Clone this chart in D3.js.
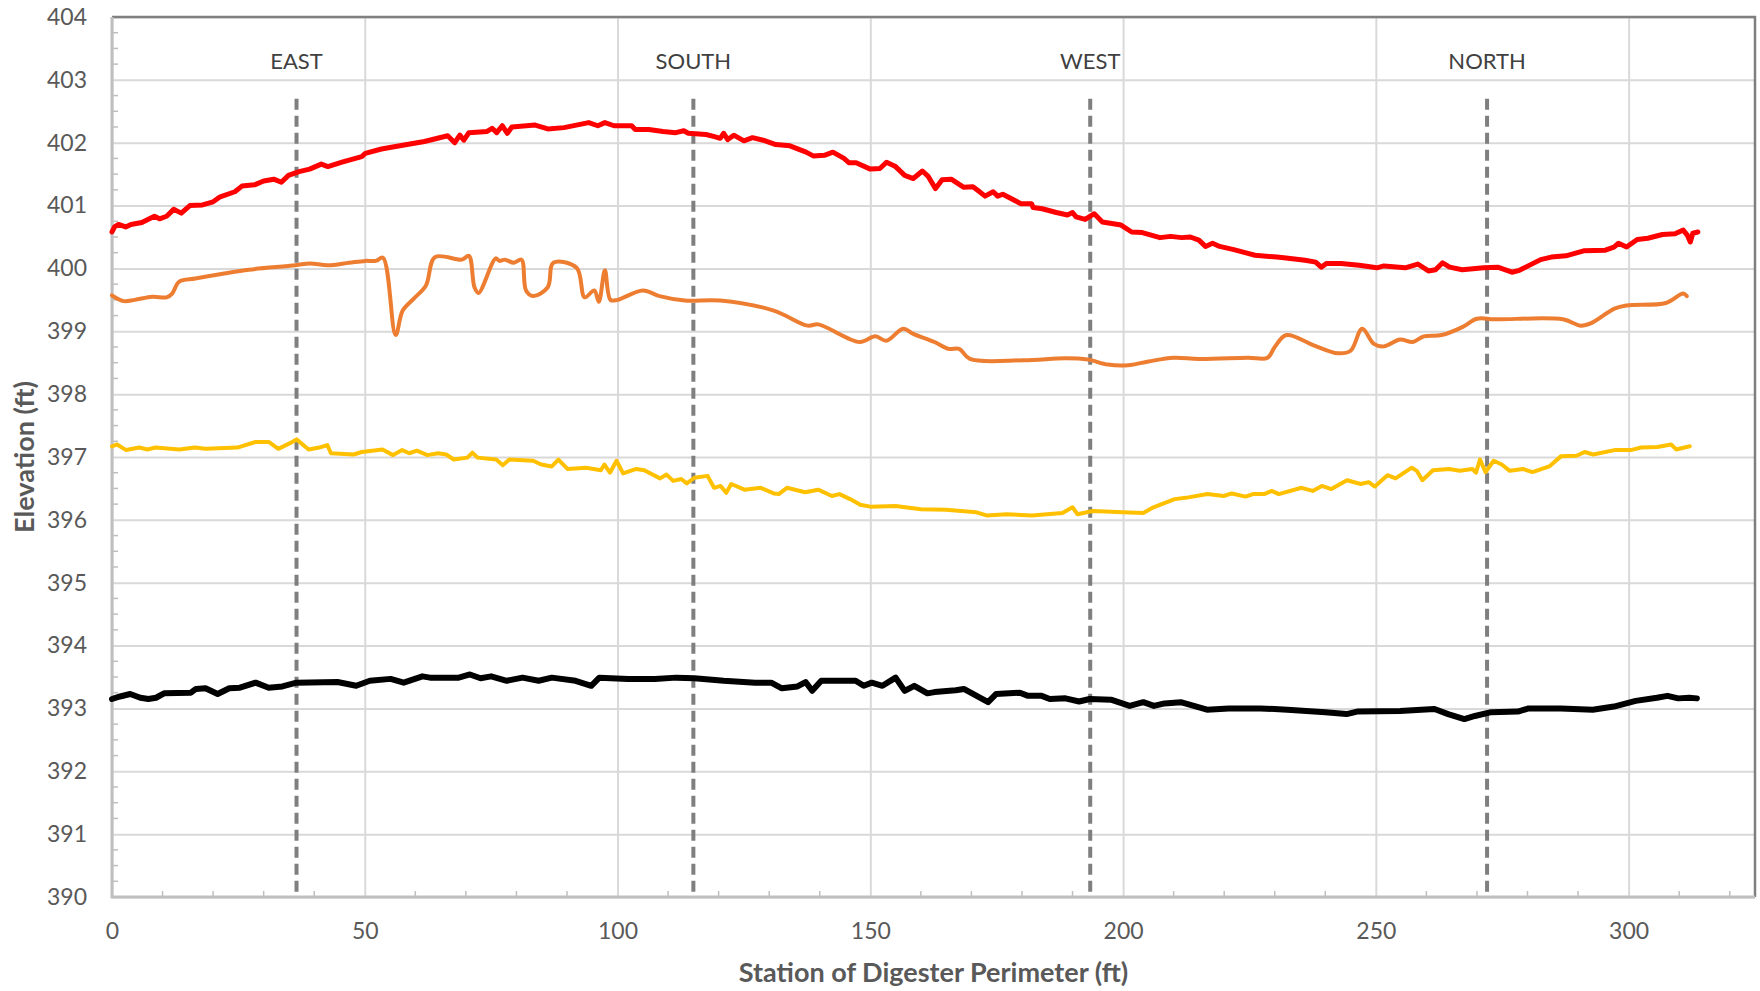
<!DOCTYPE html>
<html>
<head>
<meta charset="utf-8">
<script src="https://cdn.jsdelivr.net/npm/d3@7"></script>
<style>
  body { margin: 0; background: #fff; }
  svg { display: block; font-family: Lato, "Open Sans", sans-serif; }
</style>
</head>
<body>
<div id="container"></div>
<script>
const width = 1760, height = 991;
const x0 = 112, x1 = 1755, y0 = 17, y1 = 897;

// station (ft), elevation (ft)
const redLine = [
  [0, 400.58], [0.5, 400.66], [1.3, 400.70], [2.7, 400.66], [3.75, 400.70], [5.9, 400.73], [8.4, 400.83],
  [9.4, 400.79], [10.8, 400.83], [12.2, 400.94], [13.7, 400.88], [15.4, 401.0], [17.9, 401.01], [20, 401.06],
  [21.4, 401.14], [24.3, 401.22], [25.7, 401.31], [28.2, 401.33], [30, 401.39], [32, 401.42], [33.5, 401.37],
  [34.9, 401.48], [37, 401.54], [39.1, 401.58], [41.4, 401.66], [42.7, 401.62], [45.5, 401.69], [49.4, 401.78],
  [50.1, 401.83], [53.3, 401.9], [57.5, 401.96], [61.8, 402.02], [66.4, 402.11], [67.8, 402.0], [68.8, 402.12],
  [69.6, 402.04], [70.6, 402.16], [74.2, 402.18], [75.2, 402.23], [76.1, 402.16], [77.2, 402.27], [78.2, 402.15],
  [79.1, 402.25], [83.7, 402.28], [86.2, 402.22], [89.4, 402.24], [94.3, 402.32], [96.1, 402.27], [97.5, 402.32],
  [99.3, 402.27], [102.8, 402.27], [103.5, 402.21], [106.2, 402.21], [109, 402.18], [111.5, 402.16], [113.1, 402.19],
  [114, 402.15], [117.5, 402.13], [119, 402.1], [120.3, 402.07], [121, 402.15], [121.8, 402.05], [123, 402.12],
  [125, 402.03], [126.7, 402.08], [128.8, 402.04], [131.3, 401.97], [134.1, 401.95], [137.3, 401.85], [138.7, 401.79],
  [140.9, 401.8], [142.6, 401.85], [144.8, 401.75], [145.8, 401.68], [147.2, 401.68], [150, 401.58], [151.9, 401.59],
  [153.2, 401.69], [155, 401.62], [156.8, 401.48], [158.5, 401.43], [160.3, 401.55], [161.4, 401.47], [162.9, 401.27],
  [164.2, 401.41], [166, 401.42], [168.5, 401.29], [170.3, 401.3], [171.3, 401.24], [172.7, 401.15], [174.3, 401.22],
  [175.2, 401.15], [176.2, 401.18], [179.8, 401.03], [181.9, 401.03], [182.2, 400.97], [184, 400.95], [186.8, 400.89],
  [189, 400.85], [190, 400.89], [190.7, 400.82], [192.5, 400.78], [194.3, 400.87], [195.9, 400.74], [199.6, 400.69],
  [201.7, 400.58], [203.8, 400.57], [207.3, 400.49], [209.4, 400.51], [211.6, 400.49], [213.3, 400.5], [215, 400.45],
  [216.3, 400.35], [217.7, 400.4], [219.1, 400.35], [221.9, 400.3], [224.7, 400.24], [226.1, 400.21], [230.4, 400.18],
  [231.8, 400.17], [236, 400.13], [238.1, 400.1], [239.2, 400.02], [240.2, 400.08], [243.1, 400.08], [246.7, 400.05],
  [250.2, 400.01], [251.6, 400.04], [255.8, 400.01], [258.3, 400.07], [260.4, 399.96], [261.8, 399.98], [263.2, 400.09],
  [264.6, 400.02], [267.1, 399.98], [271.3, 400.01], [274.1, 400.02], [276.9, 399.94], [278.4, 399.97], [282.6, 400.14],
  [284.7, 400.18], [287.6, 400.2], [291.1, 400.28], [295.4, 400.29], [297.1, 400.34], [298, 400.4], [299.6, 400.34],
  [301.7, 400.46], [303.8, 400.48], [306.7, 400.54], [309.2, 400.55], [310.8, 400.61], [311.6, 400.53], [312.2, 400.42],
  [312.7, 400.56], [313.7, 400.58]
];

const orangeLine = [
  [0, 399.57], [2.3, 399.48], [4.5, 399.5], [8, 399.55], [10.8, 399.54], [11.9, 399.6], [13.3, 399.79], [16.5, 399.84],
  [22.2, 399.92], [27.1, 399.98], [36.3, 400.05], [39.1, 400.08], [42.7, 400.05], [46.9, 400.09], [50.1, 400.12],
  [52.2, 400.12], [53.6, 400.17], [56.1, 398.94], [57.5, 399.33], [59.7, 399.52], [62.1, 399.73], [63.9, 400.18],
  [69.2, 400.14], [70.6, 400.2], [71.7, 399.7], [72.5, 399.61], [75.9, 400.16], [76.6, 400.12], [77.7, 400.14],
  [79.5, 400.09], [81, 400.14], [81.9, 399.65], [83.3, 399.56], [86.2, 399.7], [87.3, 400.09], [91.9, 400.01],
  [93.5, 399.54], [95.4, 399.65], [96.3, 399.47], [97.5, 399.97], [98.6, 399.5], [100, 399.5], [105, 399.65],
  [108.3, 399.56], [113.3, 399.49], [120.3, 399.49], [130.9, 399.33], [137.6, 399.09], [139.7, 399.11], [147.9, 398.83],
  [151, 398.92], [153.2, 398.85], [156.5, 399.04], [158.5, 398.96], [162.7, 398.83], [165.5, 398.72], [167.6, 398.72],
  [169.7, 398.56], [180.3, 398.54], [188.7, 398.57], [193, 398.55], [197, 398.47], [201, 398.46], [205, 398.52],
  [210, 398.58], [215, 398.56], [224.7, 398.58], [228.6, 398.58], [230, 398.75], [232.3, 398.94], [237.6, 398.78],
  [242.5, 398.65], [245, 398.69], [247.3, 399.04], [249.6, 398.8], [251.6, 398.76], [254.8, 398.87], [257.3, 398.83],
  [259.5, 398.92], [263, 398.94], [267.2, 399.07], [270, 399.2], [273.6, 399.19], [287, 399.19], [290.5, 399.09],
  [292.6, 399.13], [297.2, 399.36], [299.6, 399.41], [307.4, 399.45], [310.8, 399.6], [311.5, 399.56]
];

const yellowLine = [
  [0, 397.17], [1, 397.2], [2.8, 397.11], [5.4, 397.15], [7, 397.12], [8.6, 397.15], [13.3, 397.12], [16.4, 397.15],
  [18.5, 397.13], [24.8, 397.15], [28.4, 397.24], [31, 397.24], [32.9, 397.13], [35.2, 397.22], [36.5, 397.28],
  [38.9, 397.12], [41, 397.15], [42.6, 397.19], [43.3, 397.06], [47.8, 397.04], [49.4, 397.08], [53.5, 397.12],
  [55.6, 397.03], [57.4, 397.11], [58.8, 397.06], [60.3, 397.1], [62.4, 397.03], [64.5, 397.06], [66.1, 397.04],
  [67.6, 396.96], [70.3, 396.99], [71.3, 397.07], [72.3, 396.99], [76, 396.96], [77.3, 396.87], [78.6, 396.96],
  [83.3, 396.94], [84.9, 396.88], [87, 396.85], [88.3, 396.96], [90.1, 396.81], [93.8, 396.83], [96.7, 396.79],
  [97.4, 396.88], [98.5, 396.75], [99.8, 396.94], [101.1, 396.74], [103.7, 396.81], [105.3, 396.79], [108.4, 396.66],
  [109.7, 396.72], [111, 396.62], [112.6, 396.65], [113.7, 396.58], [115.2, 396.67], [117.8, 396.7], [119.1, 396.51],
  [120.4, 396.54], [121.5, 396.43], [122.5, 396.57], [125.1, 396.48], [128.3, 396.51], [130.9, 396.42], [131.9, 396.41],
  [133.5, 396.51], [137.1, 396.44], [139.7, 396.48], [142.4, 396.38], [143.9, 396.41], [146, 396.33], [148, 396.24],
  [150, 396.21], [155, 396.22], [160, 396.17], [165, 396.16], [171, 396.12], [173, 396.07], [177, 396.09], [182, 396.07],
  [188, 396.11], [190, 396.2], [191, 396.09], [194, 396.14], [200, 396.12], [204, 396.11], [206, 396.2],
  [210.2, 396.33], [212.4, 396.35], [216.7, 396.41], [219.9, 396.38], [221.5, 396.42], [224.2, 396.37], [225.7, 396.41],
  [227.9, 396.41], [229.4, 396.46], [230.8, 396.41], [235.3, 396.51], [237.5, 396.46], [239.3, 396.54], [241.2, 396.49],
  [244.3, 396.63], [247, 396.57], [248.6, 396.6], [249.8, 396.53], [252.3, 396.71], [253.9, 396.66], [257.1, 396.83],
  [258.1, 396.78], [259.2, 396.63], [261.3, 396.79], [264.5, 396.81], [266.6, 396.78], [269.1, 396.81], [269.8, 396.75],
  [270.6, 396.96], [271.7, 396.76], [273.3, 396.94], [274.9, 396.88], [276.5, 396.78], [279.1, 396.81], [281, 396.76],
  [284.3, 396.85], [286.6, 397.01], [289.7, 397.02], [291.3, 397.08], [293, 397.04], [297.2, 397.11], [300.4, 397.11],
  [302.5, 397.15], [305.7, 397.16], [308.4, 397.2], [309.4, 397.12], [312.1, 397.17]
];

const blackLine = [
  [0, 393.15], [1.6, 393.19], [3.6, 393.23], [5.6, 393.17], [7.2, 393.15], [8.7, 393.17], [10.3, 393.24], [15.6, 393.25],
  [16.6, 393.31], [18.5, 393.32], [20.9, 393.23], [23.2, 393.32], [25.3, 393.33], [28.4, 393.41], [31, 393.33],
  [33.7, 393.35], [36.5, 393.41], [44.6, 393.42], [48.3, 393.36], [51, 393.44], [55.1, 393.47], [57.7, 393.41],
  [61.4, 393.51], [62.9, 393.49], [68.6, 393.49], [70.8, 393.54], [72.9, 393.48], [75, 393.51], [78.1, 393.44],
  [81.2, 393.49], [84.4, 393.44], [87, 393.49], [91.7, 393.44], [94.8, 393.36], [96.4, 393.49], [102.1, 393.47],
  [107.4, 393.47], [111.6, 393.49], [115.2, 393.48], [121, 393.44], [127.2, 393.41], [130.4, 393.41], [132.5, 393.32],
  [135.6, 393.35], [137.2, 393.42], [138.5, 393.28], [140.3, 393.44], [147.1, 393.44], [148.7, 393.36], [150.3, 393.41],
  [152.4, 393.36], [155, 393.49], [156.8, 393.28], [158.7, 393.36], [161.3, 393.24], [162.7, 393.26], [166.9, 393.29],
  [168.5, 393.31], [173.3, 393.1], [174.9, 393.23], [179.6, 393.25], [181.2, 393.2], [183.9, 393.2], [185.5, 393.15],
  [188.6, 393.16], [191.3, 393.11], [193.4, 393.15], [197.6, 393.14], [201.3, 393.04], [204, 393.1], [206.1, 393.04],
  [208.2, 393.08], [211.4, 393.1], [216.6, 392.98], [220.9, 393.0], [227.2, 393.0], [232.5, 392.98], [240, 392.94],
  [244.2, 392.91], [246.3, 392.95], [254.8, 392.96], [259, 392.98], [261.6, 392.99], [264.3, 392.91], [267.5, 392.83],
  [269.6, 392.88], [272.8, 392.94], [278.1, 392.95], [280.2, 393.0], [286.6, 393.0], [292.9, 392.98], [297.1, 393.03],
  [301.4, 393.12], [305.6, 393.17], [307.7, 393.2], [309.8, 393.16], [312, 393.17], [313.5, 393.16]
];

const sideNames = ['EAST', 'SOUTH', 'WEST', 'NORTH'];
const sideStations = [36.5, 115, 193.5, 272];
const xTicks = [0, 50, 100, 150, 200, 250, 300];
const yTicks = d3.range(390, 405);

const x = d3.scaleLinear([0, 325], [x0, x1]);
const y = d3.scaleLinear([390, 404], [y1, y0]);

const svg = d3.select('#container').append('svg')
    .attr('width', width)
    .attr('height', height)
    .attr('viewBox', [0, 0, width, height]);

// gridlines
svg.append('g')
    .attr('transform', `translate(${x0},0)`)
    .call(d3.axisLeft(y).tickValues(yTicks).tickSize(-(x1 - x0)).tickFormat(''))
    .call(g => g.select('.domain').remove())
    .call(g => g.selectAll('line').attr('stroke', '#d9d9d9').attr('stroke-width', 2));

svg.append('g')
    .attr('transform', `translate(0,${y1})`)
    .call(d3.axisBottom(x).tickValues(xTicks).tickSize(-(y1 - y0)).tickFormat(''))
    .call(g => g.select('.domain').remove())
    .call(g => g.selectAll('line').attr('stroke', '#d9d9d9').attr('stroke-width', 2));

// plot area border (top / right darker)
svg.append('path')
    .attr('d', `M${x0},${y0}H${x1}V${y1}`)
    .attr('fill', 'none')
    .attr('stroke', '#7f7f7f')
    .attr('stroke-width', 2.5);

// minor ticks
const yMinor = d3.range(390, 404.01, 0.25).filter(v => Math.abs(v - Math.round(v)) > 0.01);
svg.append('g').selectAll('line')
    .data(yMinor)
    .join('line')
    .attr('x1', x0).attr('x2', x0 + 6)
    .attr('y1', d => y(d)).attr('y2', d => y(d))
    .attr('stroke', '#bfbfbf').attr('stroke-width', 1.5);

const xMinor = d3.range(10, 325, 10).filter(v => v % 50 !== 0);
svg.append('g').selectAll('line')
    .data(xMinor)
    .join('line')
    .attr('x1', d => x(d)).attr('x2', d => x(d))
    .attr('y1', y1).attr('y2', y1 - 6)
    .attr('stroke', '#bfbfbf').attr('stroke-width', 1.5);

// axis lines
svg.append('path')
    .attr('d', `M${x0},${y0}V${y1}H${x1}`)
    .attr('fill', 'none')
    .attr('stroke', '#bfbfbf')
    .attr('stroke-width', 3);

// tick labels
svg.append('g')
    .attr('transform', `translate(${x0},0)`)
    .call(d3.axisLeft(y).tickValues(yTicks).tickSize(0).tickPadding(25).tickFormat(d3.format('d')))
    .call(g => g.select('.domain').remove())
    .call(g => g.selectAll('text')
        .attr('fill', '#595959')
        .style('font-size', '23px')
        .style('font-family', 'Lato, sans-serif'));

svg.append('g')
    .attr('transform', `translate(0,${y1})`)
    .call(d3.axisBottom(x).tickValues(xTicks).tickSize(0).tickPadding(26).tickFormat(d3.format('d')))
    .call(g => g.select('.domain').remove())
    .call(g => g.selectAll('text')
        .attr('fill', '#595959')
        .style('font-size', '23px')
        .style('font-family', 'Lato, sans-serif'));

// side markers
const sides = sideNames.map((name, i) => ({name, station: sideStations[i]}));

svg.append('g').selectAll('line')
    .data(sides)
    .join('line')
    .attr('x1', d => x(d.station)).attr('x2', d => x(d.station))
    .attr('y1', y(402.7)).attr('y2', y(390))
    .attr('stroke', '#7f7f7f')
    .attr('stroke-width', 4)
    .attr('stroke-dasharray', '11,6');

svg.append('g').selectAll('text')
    .data(sides)
    .join('text')
    .attr('x', d => x(d.station))
    .attr('y', 69)
    .attr('text-anchor', 'middle')
    .attr('fill', '#404040')
    .style('font-size', '22px')
    .text(d => d.name);

// survey lines
const series = [
  {data: redLine, color: '#ff0000', w: 5, curve: d3.curveLinear},
  {data: orangeLine, color: '#ed7d31', w: 4, curve: d3.curveCatmullRom.alpha(0.5)},
  {data: yellowLine, color: '#ffc000', w: 4, curve: d3.curveLinear},
  {data: blackLine, color: '#000000', w: 6, curve: d3.curveLinear}
];

series.forEach(s => {
    const line = d3.line()
        .x(d => x(d[0]))
        .y(d => y(d[1]))
        .curve(s.curve);
    svg.append('path')
        .datum(s.data)
        .attr('d', line)
        .attr('fill', 'none')
        .attr('stroke', s.color)
        .attr('stroke-width', s.w)
        .attr('stroke-linejoin', 'round')
        .attr('stroke-linecap', 'round');
});

// axis titles
svg.append('text')
    .attr('transform', `translate(25,${(y0 + y1) / 2}) rotate(-90)`)
    .attr('text-anchor', 'middle')
    .attr('dy', '0.35em')
    .attr('fill', '#595959')
    .style('font-size', '27px')
    .style('font-weight', 'bold')
    .text('Elevation (ft)');

svg.append('text')
    .attr('x', (x0 + x1) / 2)
    .attr('y', 982)
    .attr('text-anchor', 'middle')
    .attr('fill', '#595959')
    .style('font-size', '27px')
    .style('font-weight', 'bold')
    .text('Station of Digester Perimeter (ft)');
</script>
</body>
</html>
